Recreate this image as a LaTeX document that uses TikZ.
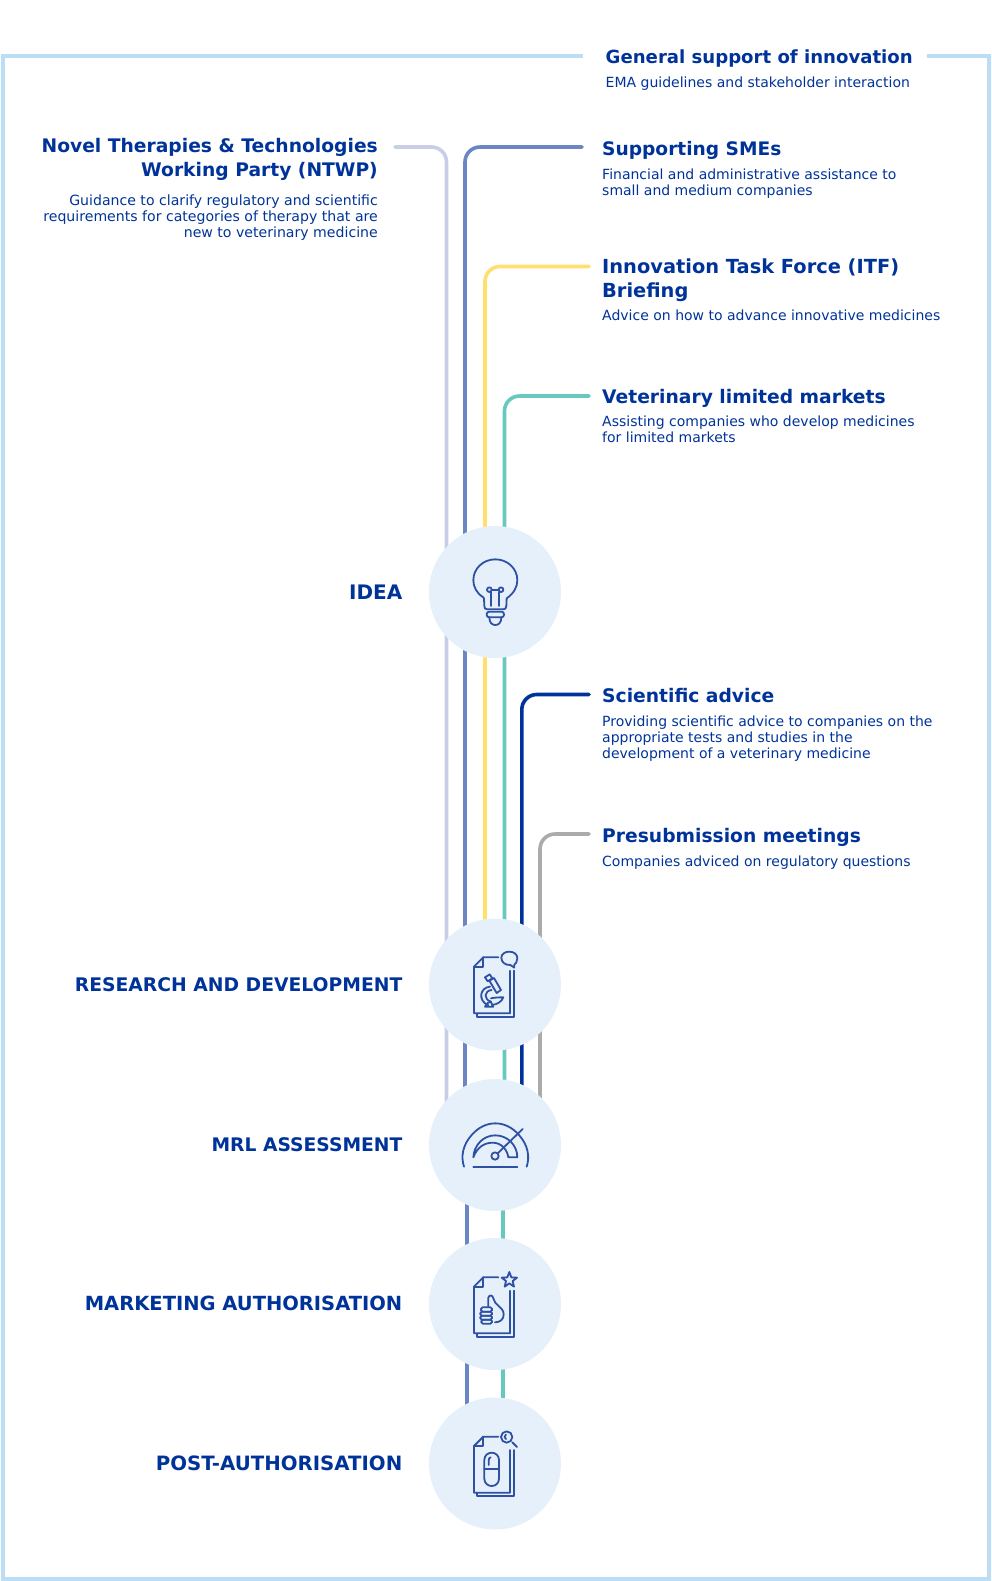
\documentclass[tikz,border=0pt]{standalone}
\usepackage{fontspec}
\usetikzlibrary{backgrounds}
\setmainfont{DejaVu Sans}
\definecolor{ema}{HTML}{003399}
\definecolor{frameblue}{HTML}{BBDDF6}
\definecolor{lav}{HTML}{C8CDE8}
\definecolor{smeblue}{HTML}{6A86C4}
\definecolor{yel}{HTML}{FFDF6E}
\definecolor{teal2}{HTML}{66C9C0}
\definecolor{grey2}{HTML}{ABABAB}
\definecolor{disc}{HTML}{E5F0FB}
\definecolor{iconblue}{HTML}{2F51A3}
\tikzset{
  x=1pt,y=-1pt,
  conn/.style={line width=3.6pt,line cap=round,rounded corners=15pt},
  stage/.style={circle,fill=disc,draw=none,minimum size=132pt,inner sep=0pt},
  stagelabel/.style={anchor=base east,text=ema,inner sep=0pt,font=\fontsize{#1}{24}\selectfont\bfseries},
  ttl/.style={anchor=base west,text=ema,inner sep=0pt,align=left,font=\fontsize{#1}{24}\selectfont\bfseries},
  ttl/.default=18.7,
  ttlr/.style={anchor=base east,text=ema,inner sep=0pt,align=right,font=\fontsize{18.7}{24}\selectfont\bfseries},
  dsc/.style={anchor=base west,text=ema,inner sep=0pt,align=left,font=\fontsize{14}{16}\selectfont},
  dscr/.style={anchor=base east,text=ema,inner sep=0pt,align=right,font=\fontsize{14.1}{16}\selectfont},
  ico/.style={draw=iconblue,line width=1.8pt,line cap=round,line join=round},
  zoomed/.style={shift={#1},x=0.33333pt,y=-0.33333pt},
}
\newcommand{\docpage}{%
  \draw[ico] (235,142) -- (190,142) -- (162,170) -- (162,310) -- (270,310) -- (270,182);
  \draw[ico] (190,142) -- (190,170) -- (162,170);
  \draw[ico] (170,310) -- (170,321) -- (283,321) -- (283,182);
}
\begin{document}
\begin{tikzpicture}
\useasboundingbox (0,0) rectangle (991,1581);
% frame
\coordinate (fa) at (583,56);
\coordinate (fb) at (927,56);
\draw[frameblue,line width=4pt,line join=miter] (fa) -- (2.5,56) -- (2.5,1579) -- (989,1579) -- (989,56) -- (fb);
% stage discs
\node[stage] (idea) at (495,592) {};
\node[stage] (rd) at (495,984.5) {};
\node[stage] (mrl) at (495,1145) {};
\node[stage] (ma) at (495,1304) {};
\node[stage] (pa) at (495,1463.5) {};
% connectors run behind the discs
\coordinate (sN) at (395,147);
\coordinate (sS) at (582,147);
\coordinate (sI) at (589,266.5);
\coordinate (sV) at (589,396);
\coordinate (sA) at (589,694.5);
\coordinate (sP) at (589,834);
\begin{pgfonlayer}{background}
\draw[conn,lav] (sN) -- (446.5,147) -- (446.5,0 |- mrl.center);
\draw[conn,smeblue] (sS) -- (465,147) -- (465,0 |- mrl.center);
\draw[conn,smeblue] (466.8,0 |- mrl.center) -- (466.8,0 |- pa.center);
\draw[conn,yel] (sI) -- (485,266.5) -- (485,0 |- rd.center);
\draw[conn,teal2] (sV) -- (504.5,396) -- (504.5,0 |- mrl.center);
\draw[conn,teal2] (503,0 |- mrl.center) -- (503,0 |- pa.center);
\draw[conn,ema] (sA) -- (521.8,694.5) -- (521.8,0 |- mrl.center);
\draw[conn,grey2] (sP) -- (540,834) -- (540,0 |- mrl.center);
\end{pgfonlayer}
% bulb
\begin{scope}[zoomed={(420,520)}]
  \draw[ico] (190,232) .. controls (170,220) and (160,200) .. (160,181) .. controls (160,145) and (190,118) .. (226,118) .. controls (262,118) and (292,145) .. (292,181) .. controls (292,200) and (282,220) .. (260,235) -- (259,258) .. controls (259,265) and (255,268) .. (250,268) -- (202,268) .. controls (196,268) and (193,265) .. (193,258) -- (192,236) -- cycle;
  \draw[ico] (208,209) circle[radius=7];
  \draw[ico] (243,209) circle[radius=7];
  \draw[ico] (215,209) -- (236,209);
  \draw[ico] (214,216) -- (214,258);
  \draw[ico] (236,216) -- (236,258);
  \draw[ico,rounded corners=2.5pt] (200,275) rectangle (252,292);
  \draw[ico] (208,292) .. controls (208,308) and (216,315) .. (226,315) .. controls (236,315) and (244,308) .. (244,292);
\end{scope}
% research: document, bubble, microscope
\begin{scope}[zoomed={(420,910)}]
  \docpage
  \draw[ico] (244,143) .. controls (244,132) and (255,125) .. (268,125) .. controls (282,125) and (292,133) .. (292,145) .. controls (292,155) and (287,161) .. (283,164) -- (283,173) -- (271,165) .. controls (255,166) and (244,156) .. (244,143) -- cycle;
  \draw[ico] (195,202) -- (209,193) -- (217,205) -- (203,214) -- cycle;
  \draw[ico] (208,212) -- (222,204) -- (243,240) -- (230,249) -- cycle;
  \draw[ico] (210,230) .. controls (180,232) and (172,272) .. (205,286);
  \draw[ico] (215,240) .. controls (192,242) and (190,268) .. (213,275);
  \draw[ico] (213,265) .. controls (225,262) and (240,262) .. (250,262) .. controls (245,275) and (232,283) .. (216,285);
  \draw[ico] (195,290) -- (220,290) -- (212,275) -- (203,279) -- cycle;
\end{scope}
% gauge
\begin{scope}[zoomed={(420,1070)}]
  \draw[ico] (132,290) .. controls (122,260) and (128,225) .. (155,195) .. controls (175,172) and (200,160) .. (226,160) .. controls (252,160) and (277,172) .. (297,195) .. controls (324,225) and (330,260) .. (320,290);
  \draw[ico] (160,262) .. controls (162,225) and (190,196) .. (226,196) .. controls (262,196) and (292,225) .. (292,262) -- (265,262) .. controls (262,240) and (245,218) .. (218,218) .. controls (190,218) and (170,235) .. (160,262) -- cycle;
  \draw[ico] (225,258) circle[radius=11];
  \draw[ico] (233,250) -- (308,177);
  \draw[ico] (160,290) -- (292,290);
\end{scope}
% thumb
\begin{scope}[zoomed={(420,1230)}]
  \docpage
  \draw[ico] (268,126) -- (274,142) -- (291,143) -- (278,153) -- (282,170) -- (268,160) -- (254,170) -- (258,153) -- (245,143) -- (262,142) -- cycle;
  \draw[ico,rounded corners=1.5pt] (183,232) rectangle (216,245);
  \draw[ico,rounded corners=1.5pt] (181,245) rectangle (216,257);
  \draw[ico,rounded corners=1.5pt] (181,257) rectangle (216,269);
  \draw[ico,rounded corners=1.5pt] (184,269) rectangle (216,281);
  \draw[ico] (205,230) -- (205,203) .. controls (207,194) and (218,194) .. (220,205) .. controls (222,225) and (250,230) .. (251,252) .. controls (252,268) and (240,277) .. (225,277);
\end{scope}
% post-authorisation
\begin{scope}[zoomed={(420,1389.3)}]
  \docpage
\end{scope}
\begin{scope}[zoomed={(420,1385)}]
  \draw[ico] (260,156) circle[radius=17];
  \draw[ico] (277,172) -- (291,186);
  \draw[ico] (258,149) .. controls (252,150) and (252,161) .. (258,162);
  \draw[ico] (193,225) .. controls (193,212) and (203,203) .. (215,203) .. controls (227,203) and (237,212) .. (237,225) -- (237,281) .. controls (237,294) and (227,303) .. (215,303) .. controls (203,303) and (193,294) .. (193,281) -- cycle;
  \draw[ico] (193,253) -- (237,253);
  \draw[ico] (206,240) -- (206,226) .. controls (206,221) and (208,218) .. (212,217);
\end{scope}
% stage labels
\node[stagelabel=20] (lIdea) at (402.5,599.3) {IDEA};
\node[stagelabel=18.75] (lRd) at (402.5,991.5) {RESEARCH AND DEVELOPMENT};
\node[stagelabel=18.7] (lMrl) at (402.5,1151.5) {MRL ASSESSMENT};
\node[stagelabel=19.5] (lMa) at (402.5,1310.7) {MARKETING AUTHORISATION};
\node[stagelabel=19.75] (lPa) at (402.5,1470.5) {POST-AUTHORISATION};
% texts (multi-line nodes are anchored at the baseline of their last line)
\node[ttl=18.1] (tG) at (605.5,63.7) {General support of innovation};
\node[dsc] (dG) at (605.5,87.3) {EMA guidelines and stakeholder interaction};
\node[ttlr] (tN) at (378,177) {Novel Therapies \& Technologies\\Working Party (NTWP)};
\node[dscr] (dN) at (378,237.5) {Guidance to clarify regulatory and scientific\\requirements for categories of therapy that are\\new to veterinary medicine};
\node[ttl=18.6] (tS) at (602,155.7) {Supporting SMEs};
\node[dsc] (dS) at (602,195.3) {Financial and administrative assistance to\\small and medium companies};
\node[ttl=19.4] (tI) at (602,297.2) {Innovation Task Force (ITF)\\Briefing};
\node[dsc] (dI) at (602,320) {Advice on how to advance innovative medicines};
\node[ttl] (tV) at (602,403) {Veterinary limited markets};
\node[dsc] (dV) at (602,442.6) {Assisting companies who develop medicines\\for limited markets};
\node[ttl] (tA) at (602,702) {Scientific advice};
\node[dsc] (dA) at (602,758) {Providing scientific advice to companies on the\\appropriate tests and studies in the\\development of a veterinary medicine};
\node[ttl] (tP) at (602,842) {Presubmission meetings};
\node[dsc] (dP) at (602,866) {Companies adviced on regulatory questions};
\end{tikzpicture}
\end{document}
